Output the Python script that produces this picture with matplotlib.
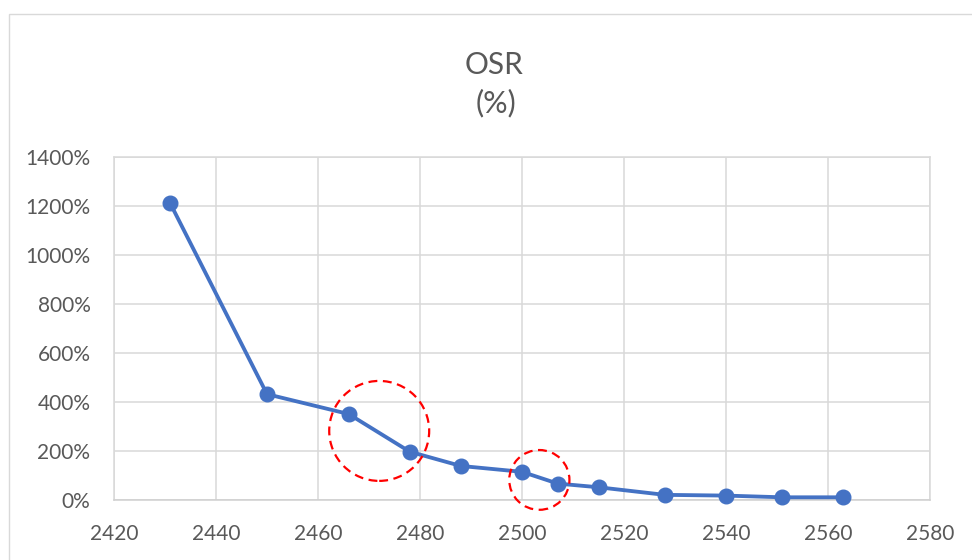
import matplotlib
matplotlib.use("Agg")
import matplotlib.pyplot as plt
from matplotlib.patches import Ellipse, Rectangle
from matplotlib.ticker import FuncFormatter

# Data
wavelength = [2431, 2450, 2466, 2478, 2488, 2500, 2507, 2515, 2528, 2540, 2551, 2563]
osr_pct = [1212, 432, 351, 197, 139, 115, 67, 52, 21, 18, 11, 11]
x_ticks = [2420, 2440, 2460, 2480, 2500, 2520, 2540, 2560, 2580]
y_ticks = [0, 200, 400, 600, 800, 1000, 1200, 1400]
title_lines = ["OSR", "(%)"]

# highlight circles: (x center, y center, x radius, y radius) in data units
highlight_x = [2472.0, 2503.4]
highlight_y = [282.0, 82.0]
highlight_rx = [9.8, 5.9]
highlight_ry = [204.0, 122.0]

plt.rcParams['font.family'] = ['Lato', 'DejaVu Sans']
grey_text = '#595959'
grid_col = '#d9d9d9'
blue = '#4472C4'

fig = plt.figure(figsize=(9.72, 5.6), dpi=100)
ax = fig.add_axes([114/972, 1-500/560, (930-114)/972, (500-157)/560])

# chart border
fig.patches.append(Rectangle((9/972, -0.1), 1.2, 1 - 14/560 + 0.1, transform=fig.transFigure,
                             fill=False, edgecolor=grid_col, linewidth=1.0))

ax.plot(wavelength, osr_pct, color=blue, linewidth=2.75, marker='o', markersize=10.5,
        markeredgecolor=blue, markerfacecolor=blue, zorder=3, clip_on=False)

for cx, cy, rx, ry in zip(highlight_x, highlight_y, highlight_rx, highlight_ry):
    ax.add_patch(Ellipse((cx, cy), 2*rx, 2*ry, fill=False, edgecolor='#ff0000',
                         linewidth=1.6, linestyle=(0, (4, 2.5)), zorder=4, clip_on=False))

ax.set_xlim(x_ticks[0], x_ticks[-1])
ax.set_ylim(y_ticks[0], y_ticks[-1])
ax.set_xticks(x_ticks)
ax.set_yticks(y_ticks)
ax.yaxis.set_major_formatter(FuncFormatter(lambda v, p: f"{int(v)}%"))
ax.grid(True, color=grid_col, linewidth=1.1)
ax.set_axisbelow(True)
for s in ax.spines.values():
    s.set_color(grid_col)
    s.set_linewidth(1.1)
ax.spines['bottom'].set_color('#cfcfcf')
ax.tick_params(axis='both', length=0, labelsize=15, labelcolor=grey_text)
ax.tick_params(axis='x', pad=17)
ax.tick_params(axis='y', pad=17)

fig.text(494/972, 1-74.3/560, title_lines[0], ha='center', va='baseline',
         fontsize=21.5, color=grey_text)
fig.text(496/972, 1-112.5/560, title_lines[1], ha='center', va='baseline',
         fontsize=22, color=grey_text)

fig.savefig('out.png', dpi=100)
